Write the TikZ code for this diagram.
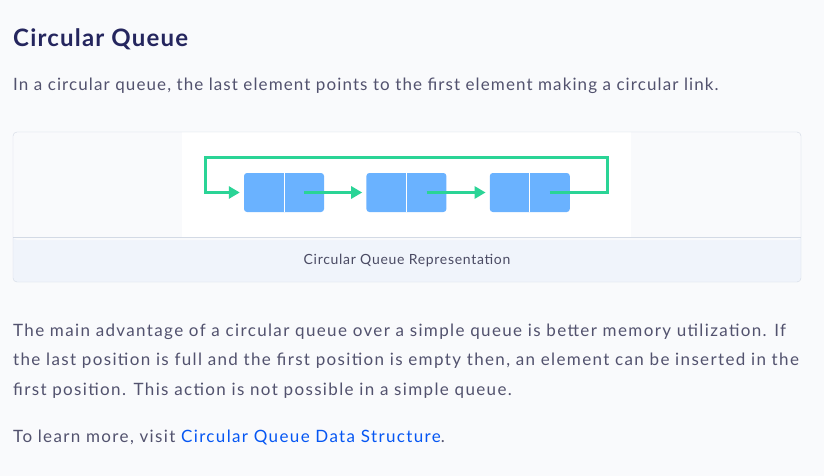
\documentclass[tikz,border=0pt]{standalone}
\usepackage{fontspec}
\setmainfont{Lato}[LetterSpace=5]
\usetikzlibrary{arrows.meta,positioning,calc}
\definecolor{pagebg}{HTML}{F9FAFC}
\definecolor{capbg}{HTML}{F0F4FB}
\definecolor{frame}{HTML}{D3DAE5}
\definecolor{cellblue}{HTML}{6AB2FF}
\definecolor{linkgreen}{HTML}{2AD496}
\definecolor{titlenavy}{HTML}{25265E}
\definecolor{bodygray}{HTML}{52526E}
\definecolor{linkblue}{HTML}{0556F3}
\tikzset{
  elem/.style={fill=cellblue,minimum width=80pt,minimum height=39pt,rounded corners=3pt,inner sep=0pt},
  link/.style={linkgreen,line width=3pt,-{Triangle[length=11pt,width=12pt]},shorten >=4pt},
  para/.style={anchor=base west,inner sep=0pt,bodygray,font=\fontsize{17}{20}\selectfont\addfontfeature{LetterSpace=8}}
}
\begin{document}
\begin{tikzpicture}[x=1pt,y=-1pt]
   \fill[pagebg] (0,0) rectangle (824,476);
   \useasboundingbox (0,0) rectangle (824,476);
   % figure frame
   \fill[capbg,rounded corners=4pt] (13,132) rectangle (801,282);
   \fill[pagebg,rounded corners=4pt] (13,132) rectangle (801,240);
   \fill[pagebg] (13,200) rectangle (801,237);
   \fill[white] (182,132) rectangle (631,237);
   \draw[frame] (13,237) -- (801,237);
   \draw[frame,rounded corners=4pt] (13,132) rectangle (801,282);
   % queue
   \node [elem] (e1) at (284,192.5) {};
   \node [elem] (e2) [right=42pt of e1] {};
   \node [elem] (e3) [right=43pt of e2] {};
   \foreach \e in {e1,e2,e3}
     \draw[white,line width=1pt] (\e.north) -- (\e.south);
   \coordinate (tr) at (607,157);
   \coordinate (tl) at (205,157);
   \draw[link] ($(e1.center)!0.5!(e1.east)$) -- (e2.west);
   \draw[link] ($(e2.center)!0.5!(e2.east)$) -- (e3.west);
   \draw[link] ($(e3.center)!0.5!(e3.east)$) -| (tr) -- (tl) |- (e1.west);
   \node [anchor=base,inner sep=0pt,bodygray!90!black,font=\fontsize{14}{16}\selectfont] (cap) at (407,264) {Circular Queue Representation};
   % text
   \node [anchor=base west,inner sep=0pt,titlenavy,font=\fontsize{24}{28}\selectfont\bfseries] (title) at (13,47) {Circular Queue};
   \node [para,font=\fontsize{17}{20}\selectfont\addfontfeature{LetterSpace=6.5}] (intro) at (13,91) {In a circular queue, the last element points to the first element making a circular link.};
   \node [para] (l1) at (13,336) {The main advantage of a circular queue over a simple queue is better memory utilization. If};
   \node [para] (l2) at (13,365) {the last position is full and the first position is empty then, an element can be inserted in the};
   \node [para] (l3) at (13,395) {first position. This action is not possible in a simple queue.};
   \node [para] (l4) at (13,442) {To learn more, visit \textcolor{linkblue}{Circular Queue Data Structure}.};
\end{tikzpicture}
\end{document}
